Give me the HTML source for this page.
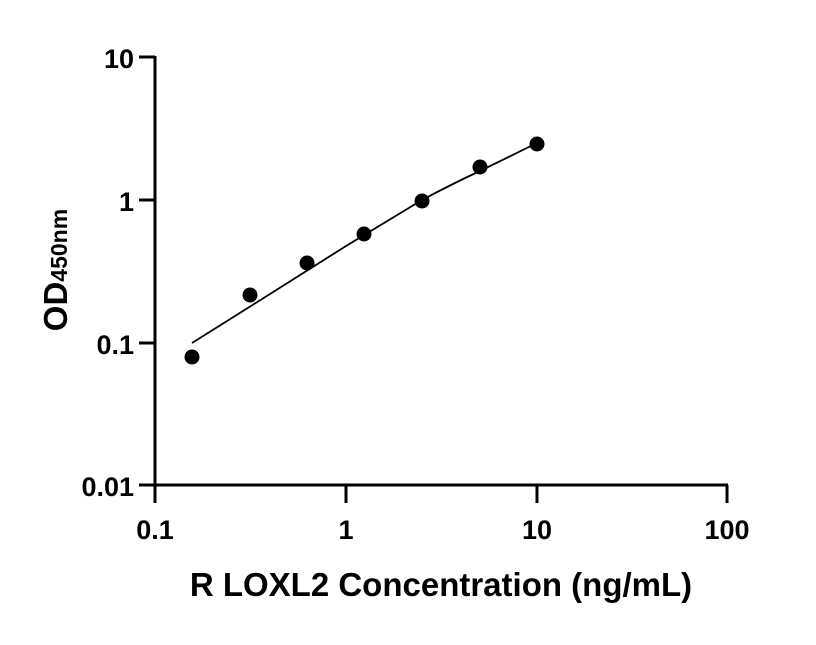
<!DOCTYPE html>
<html><head><style>body{margin:0;background:#fff}</style></head><body>
<svg width="816" height="640" xmlns="http://www.w3.org/2000/svg" font-family="Liberation Sans, sans-serif" font-weight="bold">
<g stroke="#000" stroke-width="3" fill="none">
<path d="M155,56 V487 M153,485 H728"/>
<path d="M139,57 H155 M139,200 H155 M139,343 H155 M139,485 H155"/>
<path d="M155,485 V503 M346,485 V503 M537,485 V503 M727,485 V503"/>
</g>
<g font-size="27" text-anchor="end">
<text x="134" y="68">10</text>
<text x="134" y="211">1</text>
<text x="134" y="354">0.1</text>
<text x="134" y="496">0.01</text>
</g>
<g font-size="27" text-anchor="middle">
<text x="155" y="539">0.1</text>
<text x="346" y="539">1</text>
<text x="537" y="539">10</text>
<text x="727" y="539">100</text>
</g>
<text x="441" y="596" font-size="33" text-anchor="middle">R LOXL2 Concentration (ng/mL)</text>
<text transform="translate(67,270) rotate(-90)" font-size="33" text-anchor="middle">OD<tspan font-size="23">450nm</tspan></text>
<path d="M192,343 L270,294 L346,246 L422,200 Q452,184 480,171 L537,143" stroke="#000" stroke-width="1.8" fill="none"/>
<g fill="#000">
<circle cx="192" cy="357" r="7.5"/><circle cx="250" cy="295" r="7.5"/><circle cx="307" cy="263" r="7.5"/>
<circle cx="364" cy="234" r="7.5"/><circle cx="422" cy="201" r="7.5"/><circle cx="480" cy="167" r="7.5"/>
<circle cx="537" cy="144" r="7.5"/>
</g>
</svg>
</body></html>
